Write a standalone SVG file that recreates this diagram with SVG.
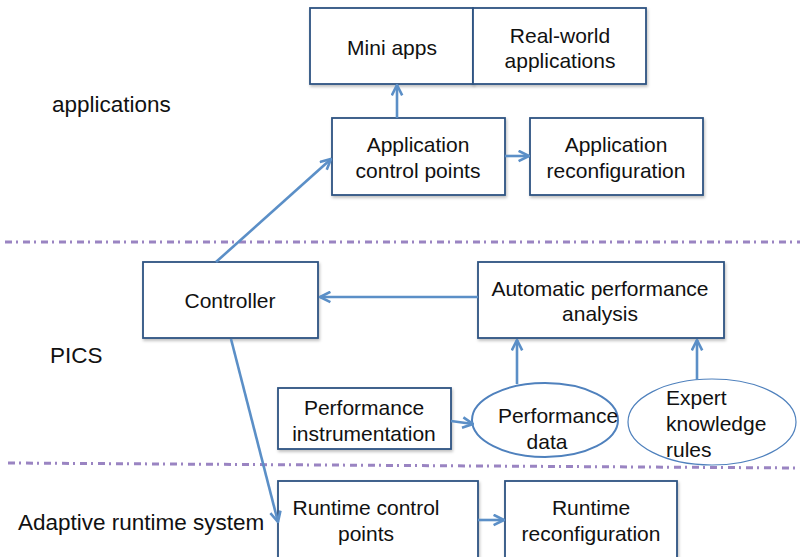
<svg xmlns="http://www.w3.org/2000/svg" width="804" height="557" viewBox="0 0 804 557">
<defs>
<style>
.box{fill:#ffffff;stroke:#2E5482;stroke-width:1.8;filter:url(#sh)}
.ell{fill:#ffffff;stroke:#4F81BD;stroke-width:2}
.ell2{fill:#ffffff;stroke:#4F81BD;stroke-width:1.2}
.t{font-family:"Liberation Sans",Arial,sans-serif;font-size:21px;fill:#111111}
.L{font-size:22.5px}
.c{text-anchor:middle}
.arr{stroke:#5B8FC7;stroke-width:2.6;fill:none;marker-end:url(#ah)}
.sep{stroke:#9A84C2;stroke-width:3;fill:none;stroke-dasharray:7 4 2 5}
</style>
<marker id="ah" viewBox="0 0 10 10" refX="9" refY="5" markerWidth="5" markerHeight="5" orient="auto" markerUnits="strokeWidth">
<path d="M1,1 L9,5 L1,9" fill="none" stroke="#5B8FC7" stroke-width="2"/>
</marker>
<filter id="sh" x="-10%" y="-10%" width="120%" height="130%">
<feDropShadow dx="1" dy="2" stdDeviation="1.5" flood-color="#000000" flood-opacity="0.25"/>
</filter>
</defs>
<rect width="804" height="557" fill="#ffffff"/>

<g id="separators">
<line class="sep" x1="5" y1="242" x2="800" y2="242"/>
<line class="sep" x1="8" y1="463" x2="800" y2="468"/>
</g>

<g id="layer-labels">
<text class="t L" x="52" y="112">applications</text>
<text class="t L" x="50" y="363">PICS</text>
<text class="t L" x="18" y="530">Adaptive runtime system</text>
</g>

<g id="mini-apps">
<rect class="box" x="310" y="8" width="163" height="76"/>
<text class="t c" x="392" y="55">Mini apps</text>
</g>
<g id="real-world-applications">
<rect class="box" x="473" y="8" width="173" height="76"/>
<text class="t c" x="560" y="43">Real-world</text>
<text class="t c" x="560" y="68">applications</text>
</g>
<g id="application-control-points">
<rect class="box" x="332" y="118" width="173" height="77"/>
<text class="t c" x="418" y="152">Application</text>
<text class="t c" x="418" y="178">control points</text>
</g>
<g id="application-reconfiguration">
<rect class="box" x="530" y="118" width="173" height="77"/>
<text class="t c" x="616" y="152">Application</text>
<text class="t c" x="616" y="178">reconfiguration</text>
</g>
<g id="controller">
<rect class="box" x="143" y="262" width="175" height="76"/>
<text class="t c" x="230" y="308">Controller</text>
</g>
<g id="automatic-performance-analysis">
<rect class="box" x="478" y="262" width="246" height="76"/>
<text class="t c" x="600" y="296">Automatic performance</text>
<text class="t c" x="600" y="321">analysis</text>
</g>
<g id="performance-instrumentation">
<rect class="box" x="278" y="388" width="173" height="61"/>
<text class="t c" x="364" y="415">Performance</text>
<text class="t c" x="364" y="441">instrumentation</text>
</g>
<g id="performance-data">
<ellipse class="ell" cx="545" cy="420" rx="73" ry="37"/>
<text class="t c" x="558" y="423">Performance</text>
<text class="t c" x="547" y="449">data</text>
</g>
<g id="expert-knowledge-rules">
<ellipse class="ell2" cx="712" cy="422" rx="84" ry="43"/>
<text class="t" x="666" y="405">Expert</text>
<text class="t" x="666" y="431">knowledge</text>
<text class="t" x="666" y="457">rules</text>
</g>
<g id="runtime-control-points">
<rect class="box" x="278" y="481" width="200" height="80"/>
<text class="t c" x="366" y="515">Runtime control</text>
<text class="t c" x="366" y="541">points</text>
</g>
<g id="runtime-reconfiguration">
<rect class="box" x="505" y="481" width="172" height="80"/>
<text class="t c" x="591" y="515">Runtime</text>
<text class="t c" x="591" y="541">reconfiguration</text>
</g>

<g id="connectors">
<line class="arr" x1="397" y1="118" x2="397" y2="85"/>
<line class="arr" x1="505" y1="156" x2="529" y2="156"/>
<line class="arr" x1="216" y1="262" x2="331" y2="159"/>
<line class="arr" x1="478" y1="297" x2="320" y2="297"/>
<line class="arr" x1="517" y1="384" x2="517" y2="340"/>
<line class="arr" x1="697" y1="380" x2="697" y2="340"/>
<line class="arr" x1="451" y1="421" x2="473" y2="424"/>
<line class="arr" x1="231" y1="339" x2="278" y2="522"/>
<line class="arr" x1="478" y1="520" x2="504" y2="520"/>
</g>
</svg>
